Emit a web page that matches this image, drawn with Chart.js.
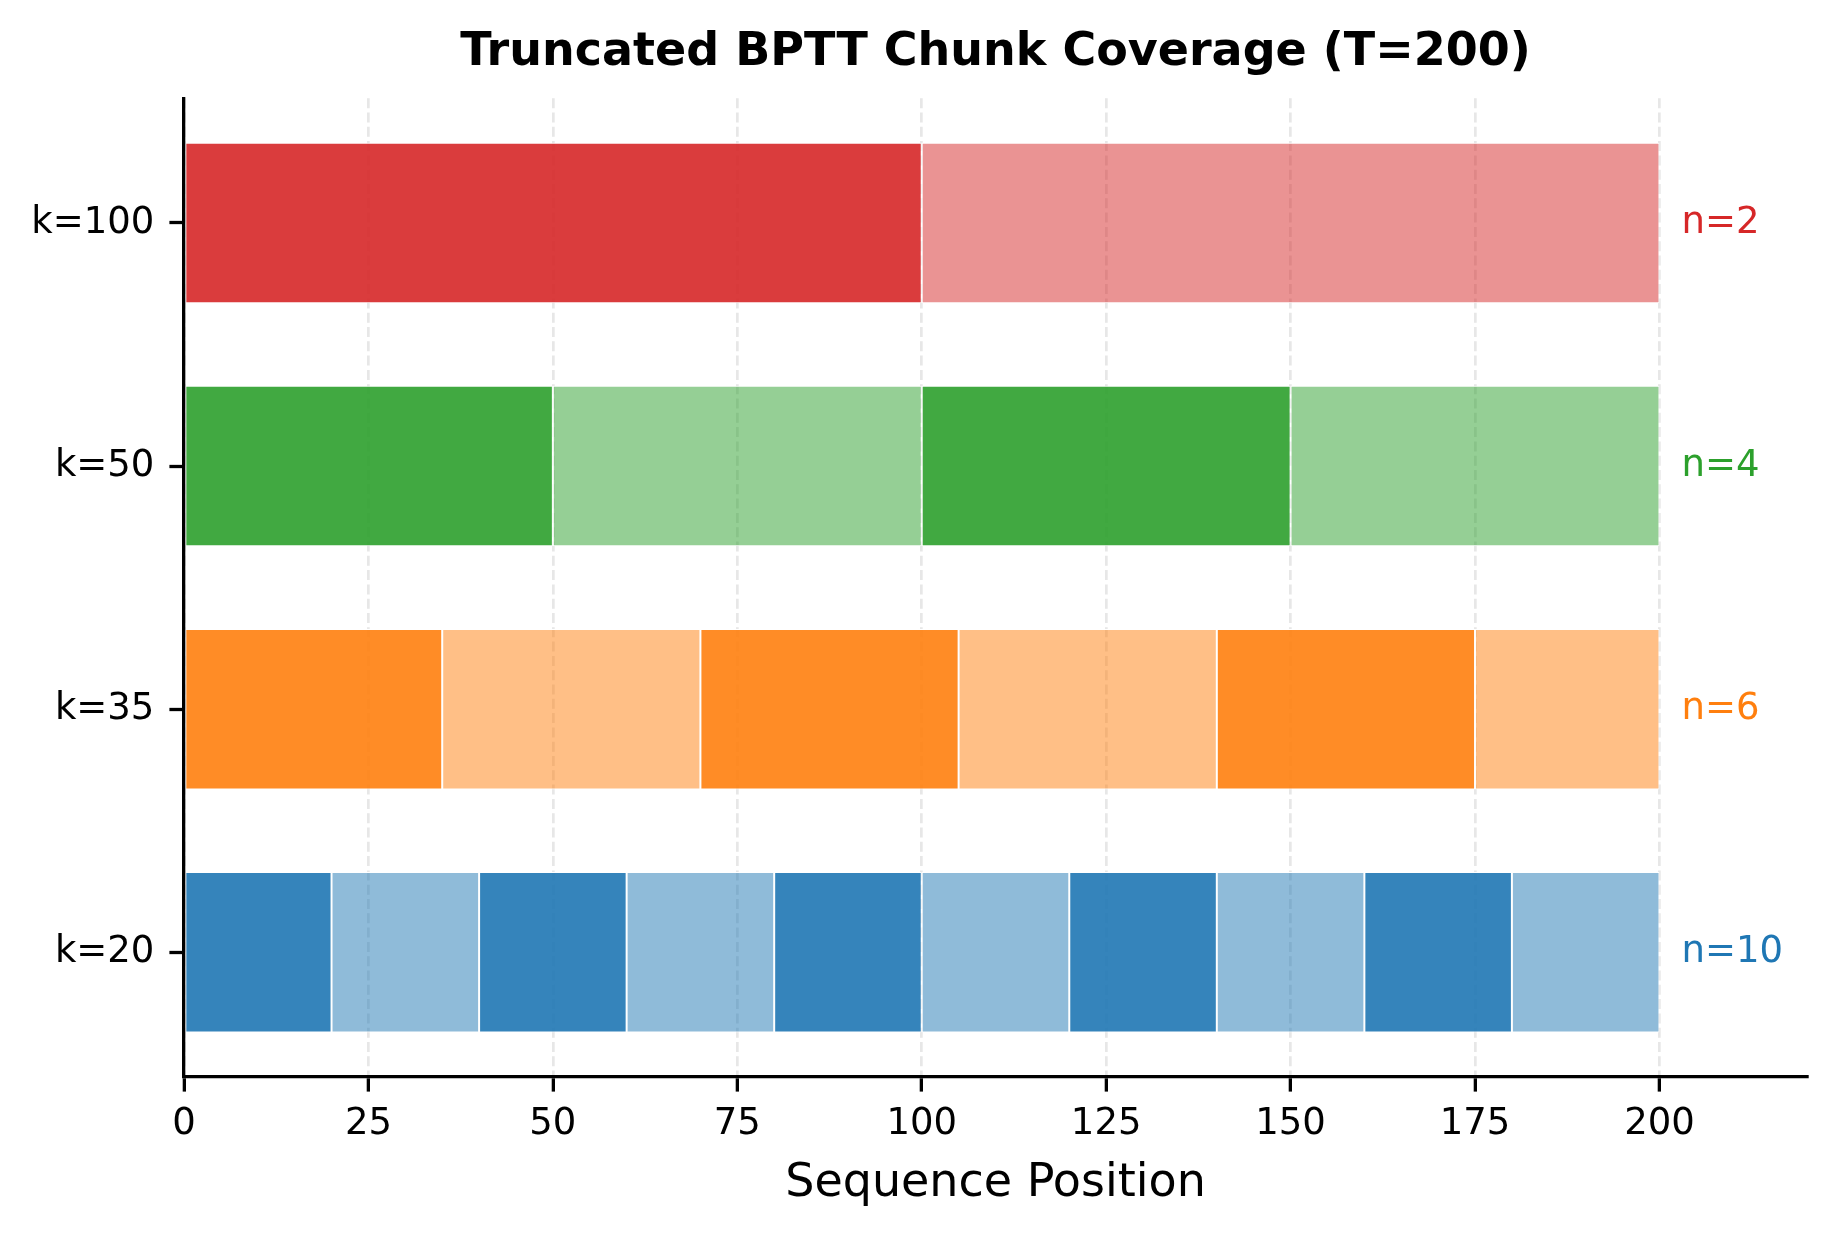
<!DOCTYPE html>
<html>
<head>
<meta charset="utf-8">
<title>Truncated BPTT Chunk Coverage</title>
<script src="https://cdn.jsdelivr.net/npm/chart.js@4.4.1/dist/chart.umd.min.js"></script>
<style>
    html, body { margin: 0; padding: 0; background: #fff; }
    #wrap { width: 1834px; height: 1234px; }
</style>
</head>
<body>
<div id="wrap"><canvas id="grafico" width="1834" height="1234"></canvas></div>
<script>
// dados
const seqLength = 200;
const rowLabels = ["k=20", "k=35", "k=50", "k=100"];
const edgesK20 = [0, 20, 40, 60, 80, 100, 120, 140, 160, 180, 200];
const edgesK35 = [0, 35, 70, 105, 140, 175, 200];
const edgesK50 = [0, 50, 100, 150, 200];
const edgesK100 = [0, 100, 200];
const chunkCounts = [10, 6, 4, 2];
const xTicks = [0, 25, 50, 75, 100, 125, 150, 175, 200];
const yTicks = [0, 1, 2, 3];

// cores tab10 (azul, laranja, verde, vermelho)
const rowColors = ["31,119,180", "255,127,14", "44,160,44", "214,39,40"];

const allEdges = [edgesK20, edgesK35, edgesK50, edgesK100];
const maxChunks = Math.max(...chunkCounts);

// um dataset por indice de chunk; cada linha (k) e um valor de y
const datasets = [];
for (let i = 0; i < maxChunks; i++) {
    const pontos = [];
    const cores = [];
    allEdges.forEach((e, linha) => {
        if (i < e.length - 1) {
            pontos.push({ x: [e[i], e[i + 1]], y: linha });
            cores.push("rgba(" + rowColors[linha] + "," + (i % 2 === 0 ? 0.9 : 0.5) + ")");
        }
    });
    datasets.push({
        data: pontos,
        backgroundColor: cores,
        borderColor: "#ffffff",
        borderWidth: 1,
        borderSkipped: false,
        grouped: false,
        barPercentage: 0.66,
        categoryPercentage: 1
    });
}

const rotulosN = {
    id: "rotulosN",
    afterDatasetsDraw(chart) {
        const { ctx, scales: { x, y } } = chart;
        ctx.save();
        ctx.font = "37px 'DejaVu Sans'";
        ctx.textAlign = "left";
        ctx.textBaseline = "middle";
        chunkCounts.forEach((n, i) => {
            ctx.fillStyle = "rgb(" + rowColors[i] + ")";
            ctx.fillText("n=" + n, x.getPixelForValue(seqLength + 3), y.getPixelForValue(i));
        });
        ctx.restore();
    }
};

const ctx = document.getElementById("grafico").getContext("2d");
const grafico = new Chart(ctx, {
    type: "bar",
    data: { datasets: datasets },
    plugins: [rotulosN],
    options: {
        indexAxis: "y",
        responsive: false,
        devicePixelRatio: 1,
        animation: false,
        layout: { padding: { left: 0, right: 27, top: 0, bottom: 0 } },
        plugins: {
            legend: { display: false },
            tooltip: { enabled: false },
            title: {
                display: true,
                fullSize: false,
                text: "Truncated BPTT Chunk Coverage (T=200)",
                color: "#000",
                font: { family: "DejaVu Sans", size: 46, weight: "bold", lineHeight: 1.2 },
                padding: { top: 25, bottom: 18 }
            }
        },
        scales: {
            x: {
                type: "linear",
                min: 0,
                max: 220,
                afterBuildTicks: s => { s.ticks = xTicks.map(v => ({ value: v })); },
                afterFit: s => { s.height = 157; },
                ticks: {
                    color: "#000",
                    padding: 11,
                    font: { family: "DejaVu Sans", size: 37, lineHeight: 1.2 }
                },
                grid: {
                    color: "rgba(176,176,176,0.3)",
                    lineWidth: 2.7,
                    tickColor: "#000",
                    tickLength: 14.6,
                    tickWidth: 3.3
                },
                border: { display: true, color: "#000", width: 3.3, dash: [10, 4.3], z: 1 },
                title: {
                    display: true,
                    text: "Sequence Position",
                    color: "#000",
                    font: { family: "DejaVu Sans", size: 46, lineHeight: 1.2 },
                    padding: { top: 0, bottom: 22 }
                }
            },
            y: {
                type: "linear",
                min: -0.513,
                max: 3.513,
                offset: false,
                afterBuildTicks: s => { s.ticks = yTicks.map(v => ({ value: v })); },
                afterFit: s => { s.width = 184; },
                ticks: {
                    color: "#000",
                    padding: 15,
                    font: { family: "DejaVu Sans", size: 37, lineHeight: 1.2 },
                    callback: v => rowLabels[v]
                },
                grid: {
                    offset: false,
                    drawOnChartArea: false,
                    tickColor: "#000",
                    tickLength: 14.6,
                    tickWidth: 3.3
                },
                border: { display: true, color: "#000", width: 3.3, z: 1 }
            }
        }
    }
});
</script>
</body>
</html>
